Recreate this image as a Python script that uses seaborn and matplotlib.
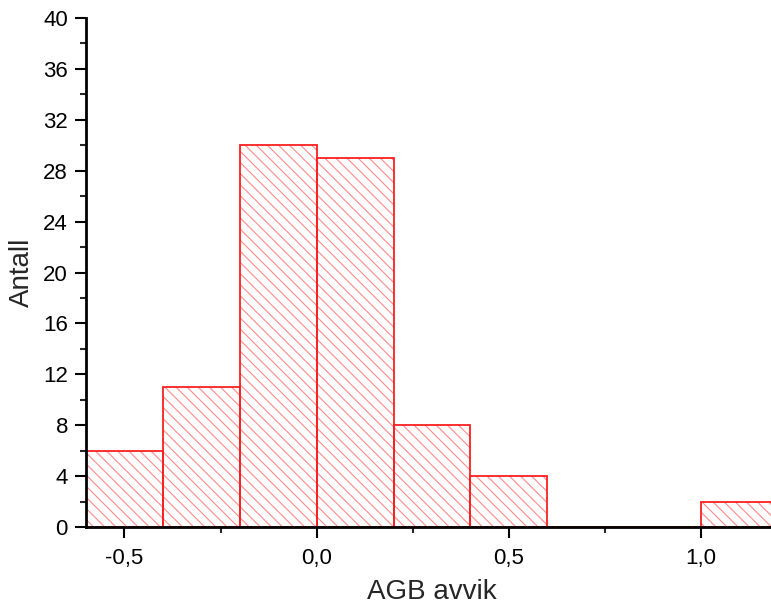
import matplotlib
matplotlib.use("Agg")
import matplotlib.pyplot as plt
import seaborn as sns
from matplotlib.ticker import MultipleLocator

# histogram bins (AGB deviation) and counts
bin_edges = [-0.6, -0.4, -0.2, 0.0, 0.2, 0.4, 0.6, 0.8, 1.0, 1.2]
counts = [6, 11, 30, 29, 8, 4, 0, 0, 2]
bin_centers = [(a + b) / 2 for a, b in zip(bin_edges[:-1], bin_edges[1:])]

x_ticks = [-0.5, 0.0, 0.5, 1.0]
x_tick_labels = ["-0,5", "0,0", "0,5", "1,0"]
y_ticks = [0, 4, 8, 12, 16, 20, 24, 28, 32, 36, 40]

sns.set_style("ticks")
plt.rcParams["font.family"] = ["Liberation Sans", "DejaVu Sans"]
plt.rcParams["hatch.linewidth"] = 0.8

fig = plt.figure(figsize=(7.71, 6.10), dpi=100)
ax = fig.add_axes([0.1115, 0.136, 0.8975, 0.8345])

# hatched fill in light red
sns.histplot(x=bin_centers, weights=counts, bins=bin_edges, ax=ax,
             color="white", edgecolor="#ff8a8a", linewidth=0,
             hatch="\\\\\\", alpha=1)
# solid red outlines
sns.histplot(x=bin_centers, weights=counts, bins=bin_edges, ax=ax,
             fill=False, color="#ff2020", linewidth=1.3)

ax.set_xlim(-0.6, 1.2)
ax.set_ylim(0, 40)
ax.set_xticks(x_ticks)
ax.set_xticklabels(x_tick_labels)
ax.set_yticks(y_ticks)
ax.xaxis.set_minor_locator(MultipleLocator(0.25))
ax.yaxis.set_minor_locator(MultipleLocator(2))

ax.tick_params(which="major", direction="out", length=8, width=1.5,
               labelsize=16, colors="black", pad=5)
ax.tick_params(which="minor", direction="out", length=4, width=1.5)
ax.tick_params(axis="x", pad=7)

for side in ["top", "right"]:
    ax.spines[side].set_visible(False)
for side in ["left", "bottom"]:
    ax.spines[side].set_linewidth(2)
    ax.spines[side].set_color("black")

ax.set_xlabel("AGB avvik", fontsize=20, labelpad=7)
ax.set_ylabel("Antall", fontsize=20, labelpad=6)

fig.savefig("out.png", dpi=100)
